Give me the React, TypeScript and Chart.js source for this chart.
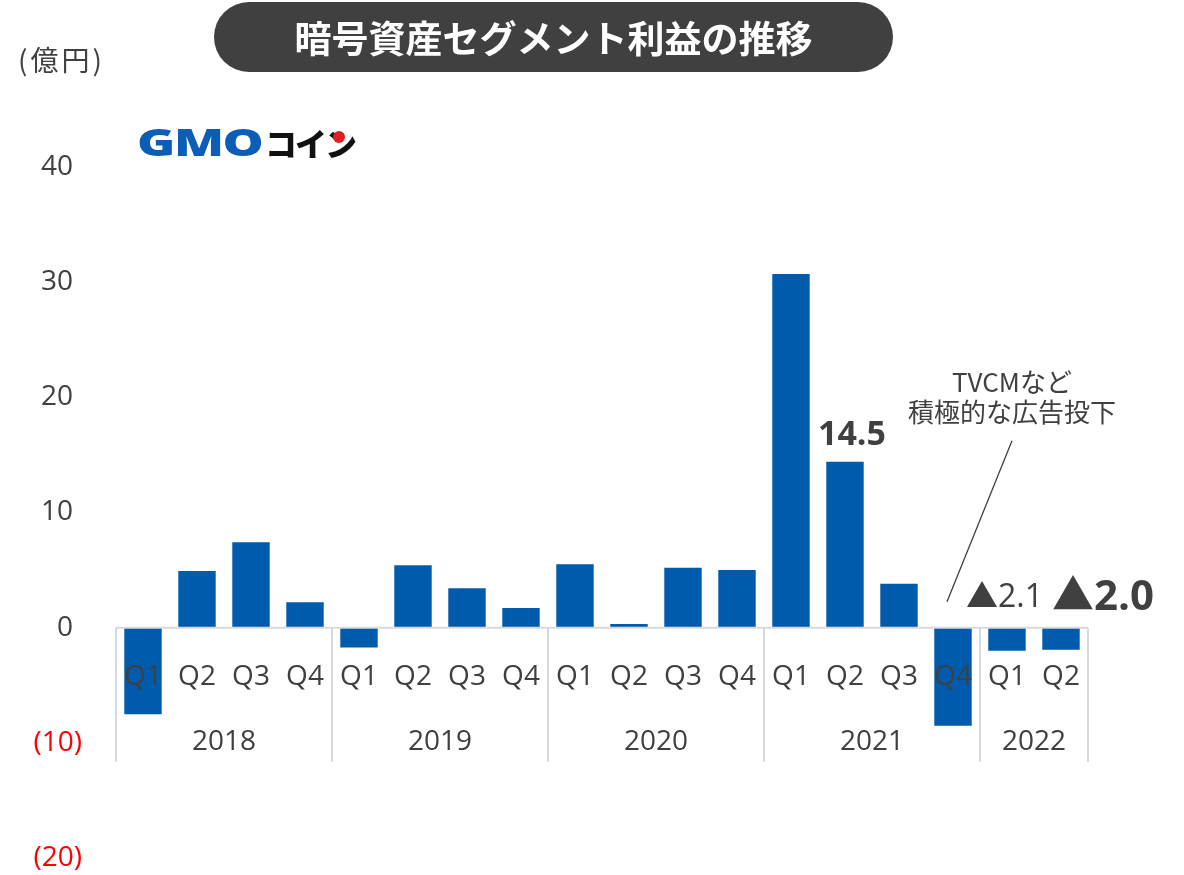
import React, { useEffect, useRef } from "react";
import { Chart, registerables } from "chart.js";

Chart.register(...registerables);

const quarterLabels = ["Q1", "Q2", "Q3", "Q4", "Q1", "Q2", "Q3", "Q4", "Q1", "Q2", "Q3", "Q4", "Q1", "Q2", "Q3", "Q4", "Q1", "Q2"];
const yearLabels = ["2018", "2019", "2020", "2021", "2022"];
const quartersPerYear = [4, 4, 4, 4, 2];
const profitValues = [-7.6, 5.0, 7.5, 2.3, -1.8, 5.5, 3.5, 1.8, 5.6, 0.4, 5.3, 5.1, 30.8, 14.5, 3.9, -8.6, -2.1, -2.0];
const yTickValues = [40, 30, 20, 10, 0, -10, -20];

const FONT = '"Open Sans", "Noto Sans CJK JP", sans-serif';
const JP = '"Noto Sans CJK JP", "Open Sans", sans-serif';
const TEXT = "#404040";

const overlayPlugin = {
  id: "overlay",
  afterDatasetsDraw(chart: any) {
    const ctx = chart.ctx as CanvasRenderingContext2D;
    const x = chart.scales.x;
    const y = chart.scales.y;
    const y0 = y.getPixelForValue(0);
    const cw = x.getPixelForValue(1) - x.getPixelForValue(0);
    const left = x.getPixelForValue(0) - cw / 2;
    const right = x.getPixelForValue(quarterLabels.length - 1) + cw / 2;
    const sepBottom = y0 + 134;
    ctx.save();

    // y tick labels (accounting format)
    ctx.textAlign = "right";
    ctx.textBaseline = "middle";
    ctx.font = `28px ${FONT}`;
    yTickValues.forEach((v) => {
      const py = y.getPixelForValue(v);
      if (v < 0) {
        ctx.fillStyle = "#FF0000";
        ctx.fillText(`(${-v})`, left - 34, py);
      } else {
        ctx.fillStyle = TEXT;
        ctx.fillText(`${v}`, left - 43, py);
      }
    });

    ctx.strokeStyle = "#D9D9D9";
    ctx.lineWidth = 2;
    ctx.beginPath();
    ctx.moveTo(left, y0);
    ctx.lineTo(right, y0);
    let idx = 0;
    const bounds: number[] = [left];
    quartersPerYear.forEach((n) => {
      idx += n;
      bounds.push(x.getPixelForValue(idx - 1) + cw / 2);
    });
    bounds.forEach((bx) => {
      ctx.moveTo(bx, y0);
      ctx.lineTo(bx, sepBottom);
    });
    ctx.stroke();

    ctx.fillStyle = TEXT;
    ctx.textAlign = "center";
    ctx.font = `28px ${FONT}`;
    quarterLabels.forEach((q, i) => {
      ctx.fillText(q, x.getPixelForValue(i), y0 + 49);
    });
    yearLabels.forEach((yr, i) => {
      ctx.fillText(yr, (bounds[i] + bounds[i + 1]) / 2, y0 + 114);
    });

    // annotations
    const i14 = 13;
    ctx.font = `bold 34px ${FONT}`;
    ctx.fillText("14.5", x.getPixelForValue(i14) + 7, y.getPixelForValue(profitValues[i14]) - 25);

    ctx.textAlign = "left";
    ctx.font = `32px ${FONT}`;
    const a1 = "▲" + Math.abs(profitValues[16]).toFixed(1);
    ctx.fillText(a1, x.getPixelForValue(16) - 41, y0 - 30);
    ctx.font = `bold 42px ${FONT}`;
    const a2 = "▲" + Math.abs(profitValues[17]).toFixed(1);
    ctx.fillText(a2, x.getPixelForValue(17) - 9, y0 - 30);

    ctx.textAlign = "center";
    ctx.font = `26px ${JP}`;
    const cx = x.getPixelForValue(15) + 59;
    ctx.fillText("TVCMなど", cx, y0 - 246);
    ctx.fillText("積極的な広告投下", cx, y0 - 216);
    ctx.strokeStyle = TEXT;
    ctx.lineWidth = 1.3;
    ctx.beginPath();
    ctx.moveTo(cx, y0 - 187);
    ctx.lineTo(x.getPixelForValue(15) - 6, y0 - 26);
    ctx.stroke();
    ctx.restore();
  },
};

export default function App() {
  const ref = useRef<HTMLCanvasElement | null>(null);
  useEffect(() => {
    document.body.style.margin = "0";
    const chart = new Chart(ref.current as HTMLCanvasElement, {
      type: "bar",
      data: {
        labels: quarterLabels,
        datasets: [
          {
            data: profitValues,
            backgroundColor: "#005BAC",
            borderColor: "rgba(255,255,255,0.45)",
            borderWidth: 1,
            barPercentage: 0.73,
            categoryPercentage: 1,
          },
        ],
      },
      options: {
        responsive: false,
        animation: false,
        devicePixelRatio: 1,
        layout: { padding: { top: 167, bottom: 17, left: 0, right: 96 } },
        plugins: { legend: { display: false }, tooltip: { enabled: false }, title: { display: false } },
        scales: {
          x: { display: false, offset: true, grid: { display: false } },
          y: {
            min: -20,
            max: 40,
            afterFit(scale: any) {
              scale.width = 116;
            },
            afterBuildTicks(scale: any) {
              scale.ticks = yTickValues.map((v) => ({ value: v }));
            },
            grid: { display: false, drawTicks: false },
            border: { display: false },
            ticks: { display: false, padding: 0 },
          },
        },
      },
      plugins: [overlayPlugin],
    });
    return () => chart.destroy();
  }, []);

  return (
    <div style={{ position: "absolute", left: 0, top: 0, width: 1184, height: 875, background: "#fff", overflow: "hidden" }}>
      <canvas ref={ref} width={1184} height={875} style={{ position: "absolute", left: 0, top: 0 }} />
      <div
        style={{
          position: "absolute", left: 214, top: 2, width: 679, height: 70, borderRadius: 35,
          background: "#404040", color: "#fff", fontFamily: JP, fontWeight: 700, fontSize: 37,
          display: "flex", alignItems: "center", justifyContent: "center", letterSpacing: 0,
        }}
      >
        暗号資産セグメント利益の推移
      </div>
      <div style={{ position: "absolute", left: 18, top: 41, fontFamily: JP, fontSize: 28, color: TEXT, lineHeight: "36px", letterSpacing: 3 }}>
        (億円)
      </div>
      <div style={{ position: "absolute", left: 137, top: 120, height: 44, width: 230 }}>
        <span
          style={{
            position: "absolute", left: 0, top: 0, fontFamily: '"Noto Sans", sans-serif', fontWeight: 900,
            fontSize: 37, lineHeight: "44px", color: "#0B5DB8", transform: "scaleX(1.4)", transformOrigin: "left center",
            display: "inline-block", letterSpacing: -1,
          }}
        >
          GMO
        </span>
        <span
          style={{
            position: "absolute", left: 128, top: 0, fontFamily: JP, fontWeight: 900, fontSize: 32,
            lineHeight: "44px", color: "#111", letterSpacing: -2,
          }}
        >
          コイン
        </span>
        <div style={{ position: "absolute", left: 196, top: 11, width: 12, height: 12, borderRadius: 6, background: "#E02020" }} />
      </div>
    </div>
  );
}
